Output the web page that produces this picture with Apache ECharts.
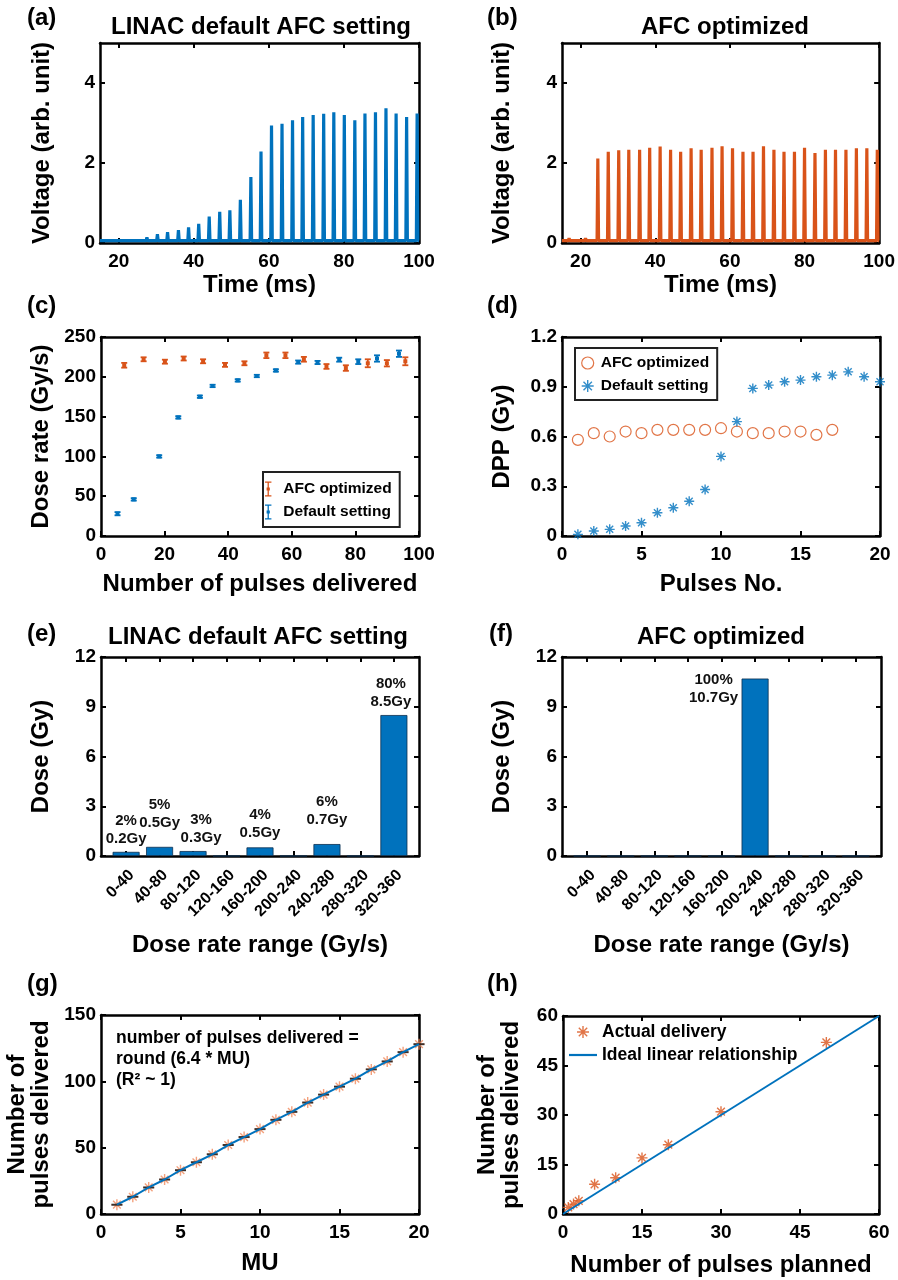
<!DOCTYPE html>
<html>
<head>
<meta charset="utf-8">
<script src="https://cdn.jsdelivr.net/npm/echarts@6/dist/echarts.min.js"></script>
<style>
  html, body { margin: 0; padding: 0; background: #fff; }
  #chart { width: 898px; height: 1280px; }
</style>
</head>
<body>
<div id="chart"></div>
<script>
// ---- data ----
// (a) default AFC: pulse times (ms) and peak voltage
const timeA = [20.0, 27.5, 30.3, 33.0, 35.9, 38.6, 41.3, 44.1, 46.9, 49.6, 52.4, 55.2, 57.9, 60.7, 63.5, 66.3, 69.0, 71.8, 74.6, 77.3, 80.1, 82.9, 85.6, 88.4, 91.2, 93.9, 96.7, 99.5];
const peakA = [0.10, 0.14, 0.22, 0.27, 0.32, 0.39, 0.48, 0.66, 0.78, 0.82, 1.08, 1.65, 2.29, 2.94, 2.98, 3.07, 3.15, 3.20, 3.23, 3.27, 3.20, 3.07, 3.24, 3.27, 3.37, 3.24, 3.15, 3.24];
const baseA = 0.06;

// (b) AFC optimized
const timeB = [16.9, 21.3, 24.6, 27.4, 30.2, 32.9, 35.8, 38.5, 41.3, 44.1, 46.8, 49.6, 52.3, 55.2, 57.9, 60.7, 63.5, 66.2, 69.0, 71.8, 74.5, 77.3, 80.0, 82.8, 85.6, 88.3, 91.1, 93.9, 96.7, 99.5];
const peakB = [0.12, 0.12, 2.11, 2.28, 2.32, 2.33, 2.33, 2.38, 2.41, 2.33, 2.28, 2.37, 2.33, 2.38, 2.42, 2.37, 2.28, 2.28, 2.42, 2.33, 2.28, 2.28, 2.38, 2.25, 2.33, 2.33, 2.33, 2.37, 2.37, 2.33];
const baseB = 0.06;

// (c) dose rate vs pulses delivered
const afcX = [7.3, 13.4, 20.1, 26.0, 32.1, 39.0, 45.1, 52.0, 58.0, 63.8, 70.9, 77.0, 83.9, 89.9, 95.7];
const afcY = [214.5, 222, 219, 223, 219.5, 215, 217, 227, 227, 222, 213, 211, 217, 217, 219.5];
const afcErr = [3, 2.5, 2.5, 2.5, 2.5, 2.5, 2.5, 3.5, 3.5, 3, 3, 3.5, 5, 4, 5];
const defX = [5.2, 10.3, 18.3, 24.3, 31.1, 35.1, 43.0, 49.0, 55.0, 62.0, 68.1, 74.9, 80.9, 86.8, 93.7];
const defY = [28, 46, 100, 149, 175, 188.5, 195.5, 201, 208, 218.5, 218, 221.5, 219, 223, 229];
const defErr = [2, 1.5, 1.5, 1.5, 1.5, 1.5, 1.5, 1.5, 1.5, 2, 2, 2.5, 3, 4, 4];

// (d) dose per pulse
const pulseNo = [1, 2, 3, 4, 5, 6, 7, 8, 9, 10, 11, 12, 13, 14, 15, 16, 17, 18, 19, 20];
const dppAfc = [0.58, 0.62, 0.60, 0.63, 0.62, 0.64, 0.64, 0.64, 0.64, 0.65, 0.63, 0.62, 0.62, 0.63, 0.63, 0.61, 0.64];
const dppDef = [0.01, 0.03, 0.04, 0.06, 0.08, 0.14, 0.17, 0.21, 0.28, 0.48, 0.69, 0.89, 0.91, 0.93, 0.94, 0.96, 0.97, 0.99, 0.96, 0.93];

// (e)/(f) dose per dose-rate bin
const rateBins = ["0-40", "40-80", "80-120", "120-160", "160-200", "200-240", "240-280", "280-320", "320-360"];
const doseDefault = [0.25, 0.55, 0.3, 0, 0.52, 0, 0.72, 0, 8.5];
const labelDefault = ["2%\n0.2Gy", "5%\n0.5Gy", "3%\n0.3Gy", "", "4%\n0.5Gy", "", "6%\n0.7Gy", "", "80%\n8.5Gy"];
const doseAfc = [0, 0, 0, 0, 0, 10.7, 0, 0, 0];
const labelAfc = ["", "", "", "", "", "100%\n10.7Gy", "", "", ""];

// (g) pulses delivered vs MU
const mu = [1, 2, 3, 4, 5, 6, 7, 8, 9, 10, 11, 12, 13, 14, 15, 16, 17, 18, 19, 20];
const pulsesG = [7, 13, 20, 26, 33, 39, 45, 52, 58, 64, 71, 77, 84, 90, 96, 102, 109, 115, 122, 128];

// (h) delivered vs planned
const planned = [1, 2, 3, 6, 10, 15, 20, 30, 50];
const delivered = [2, 3, 4, 9, 11, 17, 21, 31, 52];
const idealX = [0, 60];
const idealY = [0, 60];

// ---- styling ----
const BLUE = "#0072BD";
const ORANGE = "#D95319";
const FONT = "'Liberation Sans', Arial, Helvetica, sans-serif";
const ASTERISK = "path://M5,0L5,10M0,5L10,5M1.5,1.5L8.5,8.5M1.5,8.5L8.5,1.5";
const IBEAM = "path://M0,0H6V1.2H0Z M2.4,0H3.6V14H2.4Z M0,12.8H6V14H0Z M1.5,5.5H4.5V8.5H1.5Z";
const LINE_ICON = "path://M0,0H28V2.2H0Z";
// per-label nudges for panel (e) bar labels
const labelNudgeE = [[0, 0], [0, -11], [8, 0], [0, 0], [0, -2], [0, 0], [0, -11], [0, 0], [-3, 0]];

const grids = [
  { left: 100, top: 43, width: 319, height: 200 },
  { left: 562, top: 43, width: 319, height: 200 },
  { left: 101, top: 337, width: 318, height: 199 },
  { left: 562, top: 337, width: 318, height: 199 },
  { left: 101, top: 657, width: 318, height: 199 },
  { left: 562, top: 657, width: 319, height: 199 },
  { left: 101, top: 1015, width: 318, height: 199 },
  { left: 563, top: 1016, width: 316, height: 198 },
];

let xAxes = [], yAxes = [];

const makeAxis = (gi, position, a, main) => {
  let label = {
    show: main,
    customValues: a.ticks,
    margin: a.margin,
    rotate: a.rotate || 0,
    fontFamily: FONT,
    fontWeight: "bold",
    fontSize: a.fontSize || 19,
    color: "#000",
  };
  if (a.formatter) label.formatter = a.formatter;
  if (a.align) label.align = a.align;
  if (a.verticalAlign) label.verticalAlign = a.verticalAlign;
  return {
    type: "value",
    gridIndex: gi,
    position: position,
    min: a.min,
    max: a.max,
    name: main ? a.name : "",
    nameLocation: "middle",
    nameGap: a.nameGap,
    nameTextStyle: {
      fontFamily: FONT,
      fontWeight: "bold",
      fontSize: 24,
      color: "#000",
      lineHeight: 24,
    },
    axisLine: { show: true, onZero: false, lineStyle: { color: "#000", width: 2.5 } },
    axisTick: { show: true, inside: true, length: 5, customValues: a.ticks, lineStyle: { color: "#000", width: 2 } },
    axisLabel: label,
    splitLine: { show: false },
  };
};

const addAxes = (gi, x, y) => {
  xAxes.push(makeAxis(gi, "bottom", Object.assign({ margin: 9 }, x), true));
  xAxes.push(makeAxis(gi, "top", x, false));
  yAxes.push(makeAxis(gi, "left", Object.assign({ margin: 5 }, y), true));
  yAxes.push(makeAxis(gi, "right", y, false));
};

const timeTicks = [20, 40, 60, 80, 100];
const voltTicks = [0, 2, 4];
addAxes(0, { min: 15, max: 100, ticks: timeTicks, name: "Time (ms)", nameGap: 30 },
  { min: 0, max: 5, ticks: voltTicks, name: "Voltage (arb. unit)", nameGap: 46 });
addAxes(1, { min: 15, max: 100, ticks: timeTicks, name: "Time (ms)", nameGap: 30 },
  { min: 0, max: 5, ticks: voltTicks, name: "Voltage (arb. unit)", nameGap: 48 });
addAxes(2, { min: 0, max: 100, ticks: [0, 20, 40, 60, 80, 100], name: "Number of pulses delivered", nameGap: 36 },
  { min: 0, max: 250, ticks: [0, 50, 100, 150, 200, 250], name: "Dose rate (Gy/s)", nameGap: 48 });
addAxes(3, { min: 0, max: 20, ticks: [0, 5, 10, 15, 20], name: "Pulses No.", nameGap: 36 },
  { min: 0, max: 1.2, ticks: [0, 0.3, 0.6, 0.9, 1.2], name: "DPP (Gy)", nameGap: 48 });

const binX = {
  min: 0.25, max: 9.75, ticks: [1, 2, 3, 4, 5, 6, 7, 8, 9],
  formatter: (v) => rateBins[Math.round(v) - 1] || "",
  rotate: 45, fontSize: 16, margin: 11, align: "right", verticalAlign: "top",
  name: "Dose rate range (Gy/s)", nameGap: 77,
};
addAxes(4, binX, { min: 0, max: 12, ticks: [0, 3, 6, 9, 12], name: "Dose (Gy)", nameGap: 48 });
addAxes(5, binX, { min: 0, max: 12, ticks: [0, 3, 6, 9, 12], name: "Dose (Gy)", nameGap: 48 });
addAxes(6, { min: 0, max: 20, ticks: [0, 5, 10, 15, 20], name: "MU", nameGap: 37 },
  { min: 0, max: 150, ticks: [0, 50, 100, 150], name: "Number of\npulses delivered", nameGap: 48 });
addAxes(7, { min: 0, max: 60, ticks: [0, 15, 30, 45, 60], name: "Number of pulses planned", nameGap: 39 },
  { min: 0, max: 60, ticks: [0, 15, 30, 45, 60], name: "Number of\npulses delivered", nameGap: 40 });

// pulse train as a polyline: flat baseline with a spike at each pulse
const pulseTrace = (times, peaks, base, t0, t1) => {
  let pts = [[t0, base]];
  times.forEach((t, i) => {
    pts.push([t - 0.2, base], [t, peaks[i]], [t + 0.2, base]);
  });
  pts.push([t1, base]);
  return pts;
};

const errorBar = (color) => (params, api) => {
  const x = api.value(0), y = api.value(1), e = api.value(2);
  const p = api.coord([x, y]);
  const hi = api.coord([x, y + e]);
  const lo = api.coord([x, y - e]);
  const w = 3;
  const style = { stroke: color, lineWidth: 1.8 };
  return {
    type: "group",
    children: [
      { type: "line", shape: { x1: p[0], y1: hi[1], x2: p[0], y2: lo[1] }, style: style },
      { type: "line", shape: { x1: p[0] - w, y1: hi[1], x2: p[0] + w, y2: hi[1] }, style: style },
      { type: "line", shape: { x1: p[0] - w, y1: lo[1], x2: p[0] + w, y2: lo[1] }, style: style },
      { type: "rect", shape: { x: p[0] - 2, y: p[1] - 2, width: 4, height: 4 }, style: { fill: color } },
    ],
  };
};

const barLabelStyle = {
  show: true,
  fontFamily: FONT,
  fontWeight: "bold",
  fontSize: 15,
  lineHeight: 18,
  color: "#111",
};

let series = [
  {
    type: "line", xAxisIndex: 0, yAxisIndex: 0,
    data: pulseTrace(timeA, peakA, baseA, 15, 100),
    symbol: "none", lineStyle: { color: BLUE, width: 3.2 }, clip: true,
  },
  {
    type: "line", xAxisIndex: 2, yAxisIndex: 2,
    data: pulseTrace(timeB, peakB, baseB, 15, 100),
    symbol: "none", lineStyle: { color: ORANGE, width: 3.2 }, clip: true,
  },
  {
    type: "custom", name: "c|AFC optimized", xAxisIndex: 4, yAxisIndex: 4,
    renderItem: errorBar(ORANGE), itemStyle: { color: ORANGE },
    encode: { x: 0, y: 1 },
    data: afcX.map((x, i) => [x, afcY[i], afcErr[i]]),
  },
  {
    type: "custom", name: "c|Default setting", xAxisIndex: 4, yAxisIndex: 4,
    renderItem: errorBar(BLUE), itemStyle: { color: BLUE },
    encode: { x: 0, y: 1 },
    data: defX.map((x, i) => [x, defY[i], defErr[i]]),
  },
  {
    type: "scatter", name: "d|AFC optimized", xAxisIndex: 6, yAxisIndex: 6,
    symbol: "circle", symbolSize: 11,
    itemStyle: { color: "rgba(0,0,0,0)", borderColor: ORANGE, borderWidth: 1.2 },
    data: dppAfc.map((v, i) => [pulseNo[i], v]),
  },
  {
    type: "scatter", name: "d|Default setting", xAxisIndex: 6, yAxisIndex: 6,
    symbol: ASTERISK, symbolSize: 10,
    itemStyle: { color: "rgba(0,0,0,0)", borderColor: BLUE, borderWidth: 1.4 },
    data: dppDef.map((v, i) => [pulseNo[i], v]),
  },
  {
    type: "bar", xAxisIndex: 8, yAxisIndex: 8, barWidth: 27,
    itemStyle: { color: BLUE, borderColor: "#0b2f4f", borderWidth: 0.8 },
    label: Object.assign({ position: "top", distance: 4 }, barLabelStyle),
    data: doseDefault.map((v, i) => ({
      value: [i + 1, v],
      label: { show: labelDefault[i] !== "", formatter: labelDefault[i], offset: labelNudgeE[i] },
    })),
  },
  {
    type: "bar", xAxisIndex: 10, yAxisIndex: 10, barWidth: 27,
    itemStyle: { color: BLUE, borderColor: "#0b2f4f", borderWidth: 0.8 },
    label: Object.assign({ position: [-28, -8], align: "center", verticalAlign: "top" }, barLabelStyle),
    data: doseAfc.map((v, i) => ({
      value: [i + 1, v],
      label: { show: labelAfc[i] !== "", formatter: labelAfc[i] },
    })),
  },
  {
    type: "line", xAxisIndex: 12, yAxisIndex: 12, symbol: "none",
    lineStyle: { color: BLUE, width: 2 },
    data: mu.map((m, i) => [m, pulsesG[i]]),
  },
  {
    type: "scatter", xAxisIndex: 12, yAxisIndex: 12,
    symbol: ASTERISK, symbolSize: 11,
    itemStyle: { color: "rgba(0,0,0,0)", borderColor: "#F08A5D", borderWidth: 1.4 },
    data: mu.map((m, i) => [m, pulsesG[i]]),
  },
  {
    type: "scatter", xAxisIndex: 12, yAxisIndex: 12,
    symbol: "rect", symbolSize: [11, 2],
    itemStyle: { color: "#111" },
    data: mu.map((m, i) => [m, pulsesG[i]]),
  },
  {
    type: "line", name: "h|Ideal linear relationship", xAxisIndex: 14, yAxisIndex: 14, symbol: "none",
    lineStyle: { color: BLUE, width: 2 }, itemStyle: { color: BLUE },
    data: idealX.map((x, i) => [x, idealY[i]]),
  },
  {
    type: "scatter", name: "h|Actual delivery", xAxisIndex: 14, yAxisIndex: 14,
    symbol: ASTERISK, symbolSize: 11,
    itemStyle: { color: "rgba(0,0,0,0)", borderColor: ORANGE, borderWidth: 1.4 },
    data: planned.map((p, i) => [p, delivered[i]]),
  },
];
series.forEach((s) => { s.animation = false; });

const legendText = (size) => ({ fontFamily: FONT, fontWeight: "bold", fontSize: size, color: "#000" });
const stripPrefix = (name) => name.split("|")[1];

const legends = [
  {
    left: 263, top: 472, orient: "vertical", selectedMode: false,
    borderColor: "#222", borderWidth: 2, padding: [9, 8, 7, 2], itemGap: 7,
    itemWidth: 20, itemHeight: 15, formatter: stripPrefix, textStyle: legendText(15.5),
    data: [
      { name: "c|AFC optimized", icon: IBEAM, itemStyle: { color: ORANGE } },
      { name: "c|Default setting", icon: IBEAM, itemStyle: { color: BLUE } },
    ],
  },
  {
    left: 575, top: 348, orient: "vertical", selectedMode: false,
    borderColor: "#222", borderWidth: 2, padding: [7, 8, 6, 6], itemGap: 7,
    itemWidth: 16, itemHeight: 12, formatter: stripPrefix, textStyle: legendText(15.5),
    data: [
      { name: "d|AFC optimized", icon: "circle", itemStyle: { color: "rgba(0,0,0,0)", borderColor: ORANGE, borderWidth: 1.2 } },
      { name: "d|Default setting", icon: ASTERISK, itemStyle: { color: "rgba(0,0,0,0)", borderColor: BLUE, borderWidth: 1.4 } },
    ],
  },
  {
    left: 569, top: 1023, orient: "vertical", selectedMode: false, padding: 0, itemGap: 5,
    itemWidth: 28, itemHeight: 12, formatter: stripPrefix, textStyle: legendText(17.5),
    data: [
      { name: "h|Actual delivery", icon: ASTERISK, itemStyle: { color: "rgba(0,0,0,0)", borderColor: ORANGE, borderWidth: 1.4 } },
      { name: "h|Ideal linear relationship", icon: LINE_ICON, itemStyle: { color: BLUE, borderWidth: 0 } },
    ],
  },
];

const txt = (text, x, y, size, align, vAlign, extra) => ({
  type: "text", x: x, y: y, silent: true,
  style: Object.assign({
    text: text, fill: "#000", fontFamily: FONT, fontWeight: "bold", fontSize: size,
    align: align, textAlign: align, verticalAlign: vAlign, textVerticalAlign: vAlign,
  }, extra || {}),
});

const graphics = [
  txt("LINAC default AFC setting", 261, 27, 24, "center", "middle"),
  txt("AFC optimized", 725, 27, 24, "center", "middle"),
  txt("LINAC default AFC setting", 258, 637, 24, "center", "middle"),
  txt("AFC optimized", 721, 637, 24, "center", "middle"),
  txt("(a)", 27, 18, 24, "left", "middle"),
  txt("(b)", 487, 18, 24, "left", "middle"),
  txt("(c)", 27, 306, 24, "left", "middle"),
  txt("(d)", 487, 306, 24, "left", "middle"),
  txt("(e)", 27, 634, 24, "left", "middle"),
  txt("(f)", 489, 634, 24, "left", "middle"),
  txt("(g)", 27, 984, 24, "left", "middle"),
  txt("(h)", 487, 984, 24, "left", "middle"),
  txt("number of pulses delivered =\nround (6.4 * MU)\n(R\u00b2 ~ 1)", 116, 1028, 17.5, "left", "top", { lineHeight: 21 }),
];

let myChart = echarts.init(document.getElementById("chart"), null, { renderer: "canvas" });
myChart.setOption({
  backgroundColor: "#fff",
  animation: false,
  grid: grids,
  xAxis: xAxes,
  yAxis: yAxes,
  legend: legends,
  series: series,
  graphic: graphics,
});
</script>
</body>
</html>
